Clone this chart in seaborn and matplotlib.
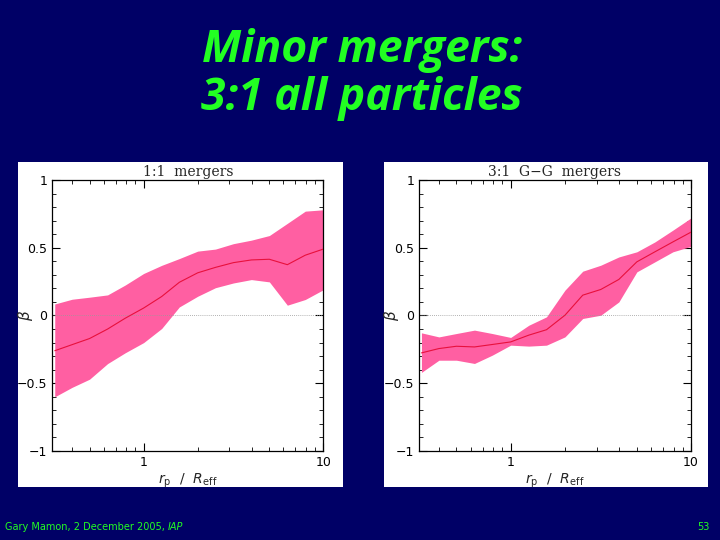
"""
beta profiles for minor vs equal-mass mergers (slide 53 reproduction)
"""
import numpy as np
import pandas as pd
import matplotlib
matplotlib.use("Agg")
import matplotlib.pyplot as plt
import seaborn as sns
from matplotlib.ticker import (MultipleLocator, LogLocator, NullFormatter,
                               FixedFormatter, FixedLocator, FuncFormatter)

# ============================================================================
# 0. DATA
# ============================================================================
r_over_reff = [0.32, 0.40, 0.50, 0.63, 0.79, 1.0, 1.26, 1.58, 2.0, 2.51,
               3.16, 3.98, 5.01, 6.31, 7.94, 10.0]

# 1:1 mergers
beta_11_mean = [-0.26, -0.215, -0.17, -0.10, -0.02, 0.055, 0.14, 0.245, 0.315, 0.355,
                0.39, 0.41, 0.415, 0.375, 0.445, 0.49]
beta_11_hi   = [0.085, 0.12, 0.135, 0.152, 0.225, 0.31, 0.37, 0.42, 0.475, 0.49,
                0.53, 0.556, 0.59, 0.68, 0.77, 0.78]
beta_11_lo   = [-0.60, -0.53, -0.47, -0.355, -0.275, -0.20, -0.096, 0.063, 0.142, 0.205,
                0.24, 0.265, 0.248, 0.076, 0.118, 0.19]

# 3:1 G-G mergers
beta_31_mean = [-0.276, -0.244, -0.227, -0.232, -0.214, -0.195, -0.145, -0.105, 0.002, 0.15,
                0.192, 0.266, 0.396, 0.47, 0.543, 0.615]
beta_31_hi   = [-0.128, -0.158, -0.133, -0.108, -0.133, -0.162, -0.072, -0.01, 0.187, 0.327,
                0.371, 0.432, 0.47, 0.543, 0.63, 0.72]
beta_31_lo   = [-0.42, -0.33, -0.33, -0.354, -0.293, -0.219, -0.226, -0.219, -0.158, -0.022,
                0.002, 0.10, 0.322, 0.396, 0.47, 0.51]

panels = [
    ("1:1  mergers", beta_11_mean, beta_11_lo, beta_11_hi),
    ("3:1  G\u2212G  mergers", beta_31_mean, beta_31_lo, beta_31_hi),
]

# ============================================================================
# 1. STYLE
# ============================================================================
sns.set_style("ticks")
BG     = "#000066"
GREEN  = "#22ff22"
PINK   = "#ff5fa2"
RED    = "#e8103c"

fig = plt.figure(figsize=(7.2, 5.4), dpi=100, facecolor=BG)

fig.text(0.503, 0.907, "Minor mergers:", ha="center", va="center", color=GREEN,
         fontsize=32, fontweight="bold", fontstyle="italic", family="Open Sans")
fig.text(0.503, 0.818, "3:1 all particles", ha="center", va="center", color=GREEN,
         fontsize=32, fontweight="bold", fontstyle="italic", family="Open Sans")

foot = fig.text(0.007, 0.025, "Gary Mamon, 2 December 2005, ", ha="left", va="center",
                color=GREEN, fontsize=7, family="Liberation Sans Narrow")
fig.text(0.985, 0.025, "53", ha="right", va="center", color=GREEN, fontsize=7,
         family="Liberation Sans Narrow")
# put the italic "IAP" right after the plain part
fig.canvas.draw()
bb = foot.get_window_extent().transformed(fig.transFigure.inverted())
fig.text(bb.x1, 0.025, "IAP", ha="left", va="center", color=GREEN, fontsize=7,
         fontstyle="italic", family="Liberation Sans Narrow")

# white "cards" behind each plot
card_rects = [[0.025, 0.098, 0.4514, 0.6019], [0.5333, 0.098, 0.45, 0.6019]]
axes_rects = [[0.0726, 0.1648, 0.3764, 0.5019], [0.5819, 0.1648, 0.3778, 0.5019]]

minus_fmt = FuncFormatter(lambda v, p: ("%g" % v).replace("-", "\u2212"))

# ============================================================================
# 2. PANELS
# ============================================================================
for (title, mean, lo, hi), crect, arect in zip(panels, card_rects, axes_rects):
    card = fig.add_axes(crect)
    card.set_facecolor("white")
    card.set_xticks([]); card.set_yticks([])
    for s in card.spines.values():
        s.set_visible(False)

    ax = fig.add_axes(arect)
    df = pd.DataFrame({"r": r_over_reff, "beta": mean, "lo": lo, "hi": hi})
    ax.fill_between(df["r"], df["lo"], df["hi"], color=PINK, lw=0, zorder=1)
    sns.lineplot(data=df, x="r", y="beta", ax=ax, color=RED, lw=0.8, zorder=3)
    ax.axhline(0, color="#999999", lw=0.6, ls=(0, (1, 1.5)), zorder=2)

    ax.set_xscale("log")
    ax.set_xlim(0.31, 10)
    ax.set_ylim(-1, 1)

    ax.xaxis.set_major_locator(FixedLocator([1, 10]))
    ax.xaxis.set_major_formatter(FixedFormatter(["1", "10"]))
    ax.xaxis.set_minor_locator(LogLocator(base=10, subs=np.arange(2, 10)))
    ax.xaxis.set_minor_formatter(NullFormatter())
    ax.yaxis.set_major_locator(MultipleLocator(0.5))
    ax.yaxis.set_minor_locator(MultipleLocator(0.1))
    ax.yaxis.set_major_formatter(minus_fmt)

    ax.tick_params(which="both", direction="in", top=True, right=True,
                   colors="black", labelsize=9)
    ax.tick_params(which="major", length=6, width=0.8)
    ax.tick_params(which="minor", length=3, width=0.6)
    for lab in ax.get_xticklabels() + ax.get_yticklabels():
        lab.set_family("DejaVu Sans")
    for s in ax.spines.values():
        s.set_linewidth(0.9)
        s.set_color("black")

    ax.set_title(title, fontsize=10, family="DejaVu Serif", pad=3)
    ax.set_xlabel(r"$r_{\rm p}\ \ /\ \ R_{\rm eff}$", fontsize=10, labelpad=2)
    ax.set_ylabel(r"$\beta$", fontsize=11, va="center")
    ax.yaxis.set_label_coords(-0.1, 0.5)

plt.savefig("out.png", dpi=100, facecolor=BG)
